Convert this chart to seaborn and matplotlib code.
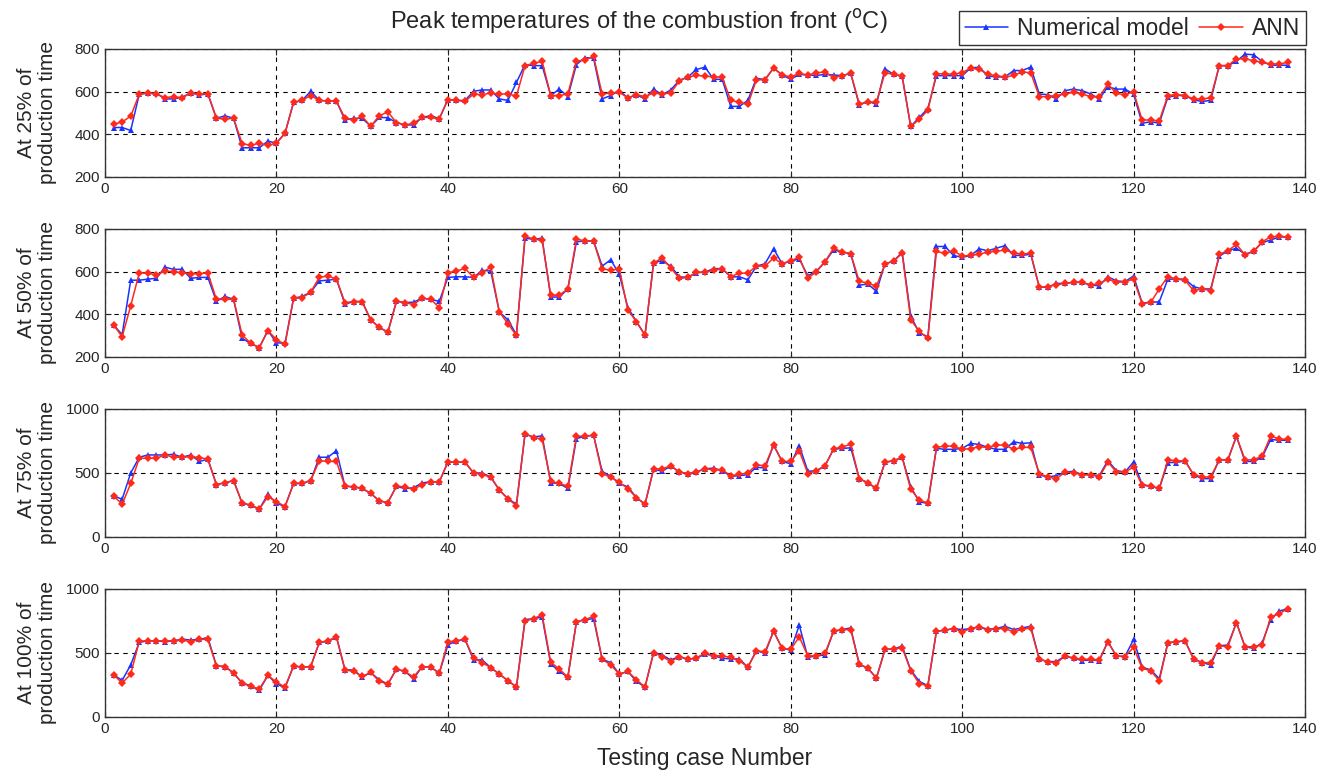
import numpy as np
import pandas as pd
import matplotlib
matplotlib.use("Agg")
import matplotlib.pyplot as plt
import seaborn as sns

sns.set_style("ticks")
plt.rcParams["font.family"] = ["Liberation Sans", "DejaVu Sans"]

cases = np.arange(1, 139)

# peak temperatures at 25% of production time
num_25 = [432, 432, 418, 589, 592, 592, 566, 566, 574, 594,
          585, 589, 475, 487, 475, 337, 337, 337, 368, 359,
          405, 550, 559, 602, 559, 556, 556, 467, 475, 475,
          438, 479, 478, 455, 444, 444, 479, 488, 473, 563,
          559, 559, 602, 608, 608, 566, 559, 643, 727, 722,
          722, 582, 612, 577, 727, 760, 757, 566, 582, 605,
          571, 585, 566, 612, 585, 608, 653, 669, 704, 715,
          658, 658, 531, 531, 559, 663, 656, 711, 678, 658,
          681, 678, 676, 681, 678, 675, 686, 536, 556, 540,
          707, 681, 673, 437, 479, 521, 675, 675, 675, 675,
          711, 715, 673, 669, 669, 699, 699, 715, 589, 586,
          566, 605, 612, 605, 589, 566, 623, 612, 612, 589,
          452, 459, 452, 574, 582, 582, 562, 554, 559, 722,
          722, 742, 776, 773, 742, 724, 724, 724]
ann_25 = [447, 458, 485, 589, 594, 589, 572, 577, 571, 594,
          589, 591, 475, 472, 475, 357, 348, 359, 348, 359,
          405, 550, 559, 582, 559, 556, 554, 476, 467, 484,
          438, 487, 505, 455, 444, 452, 479, 479, 473, 563,
          559, 554, 589, 585, 594, 588, 590, 579, 722, 733,
          742, 582, 582, 589, 742, 750, 765, 589, 594, 597,
          571, 585, 577, 594, 589, 594, 650, 669, 676, 673,
          669, 669, 559, 551, 540, 656, 656, 711, 678, 669,
          686, 678, 689, 692, 666, 675, 686, 543, 551, 551,
          689, 681, 673, 437, 470, 513, 684, 684, 681, 689,
          711, 704, 681, 675, 669, 676, 692, 689, 577, 577,
          582, 589, 597, 589, 577, 577, 635, 592, 585, 600,
          467, 467, 463, 582, 586, 582, 566, 566, 571, 722,
          722, 754, 754, 745, 737, 730, 730, 737]

# at 50%
num_50 = [350, 305, 560, 560, 565, 569, 621, 611, 611, 569,
          573, 573, 461, 484, 470, 287, 264, 244, 324, 267,
          264, 475, 484, 504, 557, 560, 565, 447, 460, 460,
          374, 339, 316, 461, 455, 457, 476, 470, 461, 573,
          576, 576, 573, 606, 603, 412, 374, 305, 756, 753,
          756, 481, 481, 519, 740, 744, 744, 626, 656, 588,
          432, 366, 302, 641, 652, 626, 576, 573, 595, 598,
          614, 614, 576, 576, 562, 626, 637, 707, 637, 649,
          660, 580, 603, 646, 702, 692, 684, 537, 542, 508,
          637, 649, 692, 392, 313, 295, 718, 718, 676, 667,
          676, 707, 698, 710, 722, 676, 676, 682, 527, 527,
          545, 545, 550, 550, 537, 534, 576, 557, 553, 580,
          453, 456, 459, 565, 565, 565, 530, 519, 519, 672,
          698, 710, 682, 695, 737, 748, 763, 763]
ann_50 = [350, 295, 440, 595, 592, 585, 603, 600, 595, 591,
          591, 594, 470, 470, 470, 304, 264, 244, 324, 282,
          259, 475, 478, 504, 573, 580, 565, 455, 460, 460,
          374, 339, 316, 461, 455, 446, 476, 470, 432, 595,
          603, 615, 573, 595, 621, 412, 356, 301, 766, 753,
          747, 490, 490, 519, 753, 744, 744, 614, 606, 614,
          420, 366, 302, 641, 664, 618, 568, 573, 598, 598,
          606, 614, 577, 592, 594, 626, 626, 664, 637, 652,
          667, 569, 600, 646, 710, 692, 684, 554, 547, 531,
          637, 649, 687, 374, 321, 287, 695, 686, 698, 673,
          676, 682, 692, 695, 702, 687, 682, 687, 527, 530,
          539, 545, 550, 550, 537, 545, 565, 550, 553, 565,
          450, 456, 519, 577, 565, 560, 511, 519, 511, 682,
          698, 728, 679, 695, 740, 763, 766, 763]

# at 75%
num_75 = [321, 295, 500, 623, 641, 641, 641, 646, 623, 641,
          590, 608, 410, 423, 441, 264, 249, 218, 333, 264,
          238, 418, 418, 441, 623, 623, 674, 397, 392, 379,
          341, 282, 269, 397, 377, 385, 423, 431, 431, 585,
          585, 585, 500, 500, 469, 367, 300, 256, 803, 782,
          790, 423, 418, 379, 769, 787, 795, 513, 474, 418,
          392, 308, 256, 531, 513, 556, 508, 495, 508, 533,
          538, 518, 474, 479, 487, 546, 538, 718, 590, 572,
          713, 513, 518, 556, 687, 692, 697, 456, 423, 379,
          585, 595, 623, 392, 274, 264, 692, 685, 685, 692,
          731, 723, 700, 685, 685, 744, 731, 736, 485, 469,
          479, 508, 513, 487, 487, 479, 597, 518, 508, 585,
          410, 397, 379, 582, 582, 595, 487, 456, 456, 603,
          603, 787, 590, 590, 623, 762, 756, 756]
ann_75 = [321, 256, 418, 615, 615, 615, 641, 623, 623, 628,
          621, 608, 410, 423, 441, 264, 249, 218, 315, 277,
          238, 418, 418, 441, 597, 590, 590, 397, 392, 379,
          341, 282, 269, 397, 392, 372, 410, 431, 431, 585,
          585, 585, 500, 487, 469, 367, 300, 244, 808, 777,
          764, 436, 418, 397, 787, 787, 795, 495, 467, 428,
          377, 308, 256, 531, 533, 556, 508, 495, 508, 533,
          526, 526, 479, 490, 500, 564, 556, 718, 590, 590,
          674, 495, 518, 556, 687, 705, 723, 456, 423, 379,
          585, 595, 623, 372, 290, 264, 700, 710, 710, 685,
          690, 705, 700, 718, 718, 685, 700, 700, 495, 469,
          454, 508, 500, 487, 487, 469, 585, 508, 508, 546,
          403, 397, 379, 603, 595, 595, 487, 469, 469, 603,
          603, 787, 603, 603, 633, 790, 764, 764]

# at 100%
num_100 = [330, 286, 407, 583, 595, 595, 588, 595, 608, 601,
           606, 621, 399, 394, 343, 265, 245, 208, 325, 260,
           227, 399, 389, 394, 583, 590, 626, 368, 368, 312,
           348, 290, 257, 374, 356, 299, 394, 389, 343, 562,
           595, 606, 446, 446, 386, 335, 283, 234, 761, 768,
           781, 415, 356, 312, 743, 761, 768, 451, 425, 335,
           356, 278, 234, 503, 485, 446, 472, 451, 459, 492,
           479, 459, 454, 454, 389, 518, 497, 670, 536, 523,
           717, 466, 477, 485, 670, 683, 696, 412, 381, 304,
           528, 531, 554, 368, 278, 245, 670, 678, 691, 683,
           691, 704, 686, 691, 709, 683, 696, 709, 451, 433,
           433, 477, 459, 441, 446, 441, 588, 477, 472, 606,
           389, 368, 299, 580, 588, 595, 454, 425, 407, 557,
           562, 737, 549, 536, 580, 761, 828, 846]
ann_100 = [330, 265, 335, 593, 595, 595, 595, 595, 601, 588,
           606, 606, 399, 394, 343, 265, 239, 219, 325, 273,
           234, 399, 389, 394, 583, 595, 626, 368, 356, 317,
           348, 278, 257, 374, 356, 312, 394, 389, 343, 588,
           595, 606, 459, 425, 386, 335, 283, 234, 750, 768,
           799, 428, 374, 312, 743, 761, 786, 451, 407, 335,
           356, 291, 234, 503, 472, 433, 472, 451, 459, 503,
           479, 477, 466, 441, 389, 518, 510, 670, 536, 528,
           626, 477, 477, 497, 670, 683, 683, 412, 381, 304,
           528, 531, 541, 363, 260, 245, 670, 678, 691, 665,
           691, 704, 678, 691, 691, 665, 686, 696, 451, 433,
           420, 477, 459, 451, 451, 446, 588, 477, 472, 544,
           381, 361, 283, 580, 588, 595, 454, 425, 425, 557,
           549, 737, 549, 549, 562, 781, 807, 846]

panels = [
    ("At 25% of\nproduction time", num_25, ann_25, (200, 800), [200, 400, 600, 800]),
    ("At 50% of\nproduction time", num_50, ann_50, (200, 800), [200, 400, 600, 800]),
    ("At 75% of\nproduction time", num_75, ann_75, (0, 1000), [0, 500, 1000]),
    ("At 100% of\nproduction time", num_100, ann_100, (0, 1000), [0, 500, 1000]),
]

fig = plt.figure(figsize=(13.33, 7.71), dpi=100)
W, H = 1333, 771
tops = [49, 229, 409, 589]
ax_h = 128

for k, (label, num, ann, ylim, yticks) in enumerate(panels):
    ax = fig.add_axes([105 / W, 1 - (tops[k] + ax_h) / H, 1200 / W, ax_h / H])
    df = pd.DataFrame({"case": cases, "Numerical model": num, "ANN": ann})
    sns.lineplot(data=df, x="case", y="Numerical model", ax=ax, color="#1a33ff",
                 marker="^", markersize=5, markeredgewidth=0, linewidth=1.1,
                 label="Numerical model", legend=False)
    sns.lineplot(data=df, x="case", y="ANN", ax=ax, color="#ff2a1a",
                 marker="D", markersize=4, markeredgewidth=0, linewidth=1.1,
                 label="ANN", legend=False)
    ax.set_xlim(0, 140)
    ax.set_ylim(*ylim)
    ax.set_xticks(range(0, 141, 20))
    ax.set_yticks(yticks)
    ax.grid(True, color="black", linestyle=(0, (4, 4)), linewidth=0.8)
    ax.tick_params(direction="in", top=True, right=True, labelsize=11, length=4)
    for s in ax.spines.values():
        s.set_color("#333333")
        s.set_linewidth(1.0)
    ax.set_xlabel("")
    ax.set_ylabel(label, fontsize=15, linespacing=1.1)
    ax.yaxis.set_label_coords(-0.04, 0.5)
    if k == 0:
        handles, labels = ax.get_legend_handles_labels()

ax.set_xlabel("Testing case Number", fontsize=16.5, labelpad=8)

fig.text(639 / W, 1 - 22 / H,
         r"Peak temperatures of the combustion front ($^{\mathrm{o}}$C)",
         ha="center", va="center", fontsize=17)

fig.legend(handles, labels, loc="upper right", ncol=2,
           bbox_to_anchor=(1306 / W, 1 - 11 / H), fontsize=16.5,
           frameon=True, fancybox=False, edgecolor="black",
           borderpad=0.25, handlelength=1.9, columnspacing=0.45,
           handletextpad=0.4, borderaxespad=0)

plt.savefig("out.png", dpi=100)
